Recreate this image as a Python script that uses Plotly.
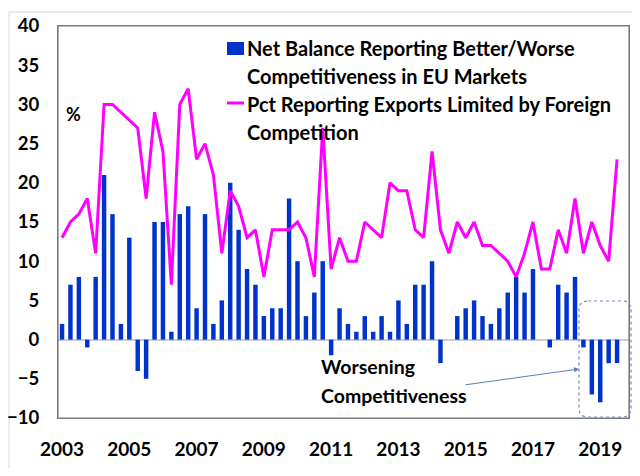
import plotly.graph_objects as go

# Quarterly categories 2003Q1 .. 2019Q3
years = list(range(2003, 2020))
quarters = [f"{y}Q{q}" for y in years for q in range(1, 5)][:67]

net_balance = [2, 7, 8, -1, 8, 21, 16, 2, 13, -4, -5, 15, 15, 1, 16, 17, 4, 16, 2, 5,
               20, 14, 9, 7, 3, 4, 4, 18, 10, 3, 6, 10, -2, 4, 2, 1, 3, 1, 3, 1,
               5, 2, 7, 7, 10, -3, 0, 3, 4, 5, 3, 2, 4, 6, 8, 6, 9, 0, -1, 7,
               6, 8, -1, -7, -8, -3, -3]
pct_limited = [13, 15, 16, 18, 11, 30, 30, 29, 28, 27, 18, 29, 24, 7, 30, 32, 23, 25, 21, 11,
               19, 17, 13, 14, 8, 14, 14, 14, 15, 13, 8, 27, 9, 13, 10, 10, 15, 14, 13, 20,
               19, 19, 14, 13, 24, 14, 11, 15, 13, 15, 12, 12, 11, 10, 8, 11, 15, 9, 9, 14,
               11, 18, 11, 15, 12, 10, 23]

tick_years = [str(y) for y in range(2003, 2020, 2)]
tick_cats = [f"{y}Q1" for y in range(2003, 2020, 2)]
y_ticks = list(range(-10, 45, 5))

name_bar = "Net Balance Reporting Better/Worse Competitiveness in EU Markets"
name_line = "Pct Reporting Exports Limited by Foreign Competition"

BLUE = "#0033CC"
MAGENTA = "#FF00FF"
FONT = "Lato"

# page offset (default body margin) and figure geometry in pixels
OFF = 8
W, H = 624, 460
L, R, T, B = 50, 3, 18, 50
PW, PH = W - L - R, H - T - B


def px(x):
    # x given in page pixels
    return (x - OFF - L) / PW


def py(y):
    return (H - B - (y - OFF)) / PH


fig = go.Figure()
fig.add_trace(go.Bar(x=quarters, y=net_balance, name=name_bar,
                     marker=dict(color=BLUE, line=dict(width=0)), showlegend=False))
fig.add_trace(go.Scatter(x=quarters, y=pct_limited, name=name_line, mode="lines",
                         line=dict(color=MAGENTA, width=3), showlegend=False))

shapes = []
# outer light frame
shapes.append(dict(type="rect", xref="paper", yref="paper",
                   x0=px(9), x1=px(700), y0=py(520), y1=py(12),
                   line=dict(color="#d9d9d9", width=1), layer="below"))
# plot area frame
shapes.append(dict(type="rect", xref="paper", yref="paper", x0=0, x1=1, y0=0, y1=1,
                   line=dict(color="#7a7a7a", width=1.2)))
# legend symbols
shapes.append(dict(type="rect", xref="paper", yref="paper",
                   x0=px(227), x1=px(244), y0=py(55), y1=py(42),
                   fillcolor=BLUE, line=dict(width=0)))
shapes.append(dict(type="line", xref="paper", yref="paper",
                   x0=px(227), x1=px(244), y0=py(103), y1=py(103),
                   line=dict(color=MAGENTA, width=3)))
# dashed rounded box
x0, x1, y0, y1, r = 579, 631, 301, 417, 9
pts = [("M", x0 + r, y0), ("L", x1 - r, y0), ("Q", x1, y0, x1, y0 + r),
       ("L", x1, y1 - r), ("Q", x1, y1, x1 - r, y1), ("L", x0 + r, y1),
       ("Q", x0, y1, x0, y1 - r), ("L", x0, y0 + r), ("Q", x0, y0, x0 + r, y0)]
path = ""
for p in pts:
    cmd = p[0]
    coords = p[1:]
    segs = []
    for i in range(0, len(coords), 2):
        segs.append(f"{px(coords[i]):.5f},{py(coords[i + 1]):.5f}")
    path += cmd + " " + " ".join(segs) + " "
path += "Z"
shapes.append(dict(type="path", xref="paper", yref="paper", path=path,
                   line=dict(color="#6f8db5", width=1.2, dash="dot")))

annotations = []
leg_lines = [("Net Balance Reporting Better/Worse", 48),
             ("Competitiveness in EU Markets", 76),
             ("Pct Reporting Exports Limited by Foreign", 104),
             ("Competition", 132)]
for txt, yy in leg_lines:
    annotations.append(dict(text=txt, xref="paper", yref="paper", x=px(245), y=py(yy),
                            xanchor="left", yanchor="middle", showarrow=False,
                            font=dict(family=FONT, size=20, color="black", weight="bold")))
annotations.append(dict(text="%", xref="paper", yref="paper", x=px(73), y=py(114),
                        xanchor="center", yanchor="middle", showarrow=False,
                        font=dict(family=FONT, size=18, color="black", weight="bold")))
annotations.append(dict(text="Worsening", xref="paper", yref="paper", x=px(319), y=py(366),
                        xanchor="left", yanchor="middle", showarrow=False,
                        font=dict(family=FONT, size=19.5, color="black", weight="bold")))
annotations.append(dict(text="Competitiveness", xref="paper", yref="paper", x=px(319), y=py(395),
                        xanchor="left", yanchor="middle", showarrow=False,
                        font=dict(family=FONT, size=19.5, color="black", weight="bold")))
annotations.append(dict(text="", xref="paper", yref="paper", x=px(579), y=py(369),
                        axref="pixel", ayref="pixel", ax=-115, ay=16,
                        showarrow=True, arrowhead=2, arrowsize=1, arrowwidth=1,
                        arrowcolor="#5b7fb0", standoff=0))

fig.update_layout(
    template="none",
    width=W, height=H,
    autosize=False,
    margin=dict(l=L, r=R, t=T, b=B, pad=0),
    paper_bgcolor="white", plot_bgcolor="white",
    bargap=0.47,
    shapes=shapes, annotations=annotations,
    font=dict(family=FONT, color="black"),
)
fig.update_xaxes(type="category", categoryorder="array", categoryarray=quarters,
                 range=[-0.48, 67.42], tickmode="array", tickvals=tick_cats, ticktext=tick_years,
                 ticks="", showgrid=False, showline=True, linecolor="#7a7a7a", linewidth=1.2,
                 mirror=True, automargin=False,
                 tickfont=dict(family=FONT, size=19, color="black", weight="bold"),
                 ticklabelstandoff=14)
fig.update_yaxes(range=[-10, 40], tickmode="array", tickvals=y_ticks,
                 ticks="", showgrid=False, showline=True, linecolor="#7a7a7a", linewidth=1.2,
                 mirror=True, zeroline=True, zerolinecolor="#c9cdd6", zerolinewidth=1.5,
                 automargin=False,
                 tickfont=dict(family=FONT, size=18.5, color="black", weight="bold"),
                 ticklabelstandoff=14)

fig.write_html("out.html")
